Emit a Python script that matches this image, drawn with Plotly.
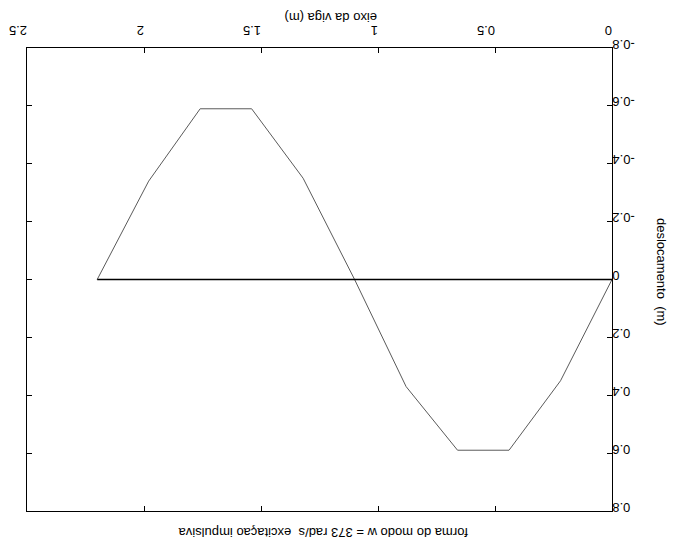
import plotly.graph_objects as go

# beam axis positions (m) and mode-shape displacement (m)
x_pos = [0.0, 0.22, 0.44, 0.66, 0.88, 1.10, 1.32, 1.54, 1.76, 1.98, 2.20]
mode_disp = [0.0, 0.35, 0.59, 0.59, 0.37, 0.0, -0.35, -0.59, -0.59, -0.34, 0.0]
zero_x = [0.0, 2.20]
zero_y = [0.0, 0.0]

x_ticks = [0, 0.5, 1, 1.5, 2, 2.5]
x_ticktext = ["0", "0.5", "1", "1.5", "2", "2.5"]
y_ticks = [-0.8, -0.6, -0.4, -0.2, 0, 0.2, 0.4, 0.6, 0.8]
y_ticktext = ["-0.8", "-0.6", "-0.4", "-0.2", "0", "0.2", "0.4", "0.6", "0.8"]

title_text = "forma do modo w = 373 rad/s  excitaçao impulsiva"
x_title = "eixo da viga (m)"
y_title = "deslocamento  (m)"

FONT = "Liberation Sans, Arial, sans-serif"

# labels are drawn upside down; pad shorter ones with invisible characters so
# that after the 180 degree turn they line up against the axis like the original
widest = max(len(t) for t in y_ticktext)
y_ticktext_padded = []
for t in y_ticktext:
    pad = "-0."[: widest - len(t)]
    y_ticktext_padded.append(
        (f"<span style='color:rgba(255,255,255,0)'>{pad}</span>" if pad else "") + t)

fig = go.Figure()
fig.add_trace(go.Scatter(x=x_pos, y=mode_disp, mode="lines",
                         line=dict(color="#5a5a5a", width=1), showlegend=False))
fig.add_trace(go.Scatter(x=zero_x, y=zero_y, mode="lines",
                         line=dict(color="black", width=1.6), showlegend=False))

# page has an 8px body margin: work in page pixels and convert
OFF = 8
W, H = 679 - OFF, 550 - OFF
box_l, box_r, box_t, box_b = 27, 612, 48, 511   # page pixels
L = box_l - OFF
R = W - (box_r - OFF)
T = box_t - OFF
B = H - (box_b - OFF)
pw, ph = W - L - R, H - T - B

def px(xp):
    return (xp - OFF - L) / pw

def py(yp):
    return (H - B - (yp - OFF)) / ph

ann_common = dict(xref="paper", yref="paper", showarrow=False,
                  xanchor="center", yanchor="middle", font=dict(size=13))

fig.update_layout(
    width=W, height=H,
    margin=dict(l=L, r=R, t=T, b=B, autoexpand=False),
    paper_bgcolor="white", plot_bgcolor="white",
    font=dict(family=FONT, size=13, color="black"),
    xaxis=dict(range=[2.5, 0], side="top", tickvals=x_ticks, ticktext=x_ticktext,
               tickangle=180, ticks="inside", ticklen=5, tickcolor="black",
               ticklabelstandoff=3,
               showline=True, linecolor="black", linewidth=1.2, mirror="ticks",
               showgrid=False, zeroline=False, automargin=False),
    yaxis=dict(range=[0.8, -0.8], side="right", tickvals=y_ticks,
               ticktext=y_ticktext_padded,
               tickangle=180, ticks="inside", ticklen=5, tickcolor="black",
               ticklabelstandoff=19,
               showline=True, linecolor="black", linewidth=1.2, mirror="ticks",
               showgrid=False, zeroline=False, automargin=False),
    annotations=[
        dict(text=x_title, textangle=180, x=px(331), y=py(17), **ann_common),
        dict(text=title_text, textangle=180, x=px(323), y=py(533), **ann_common),
        dict(text=y_title, textangle=90, x=px(662), y=py(272), **ann_common),
    ],
)

fig.write_html("out.html")
